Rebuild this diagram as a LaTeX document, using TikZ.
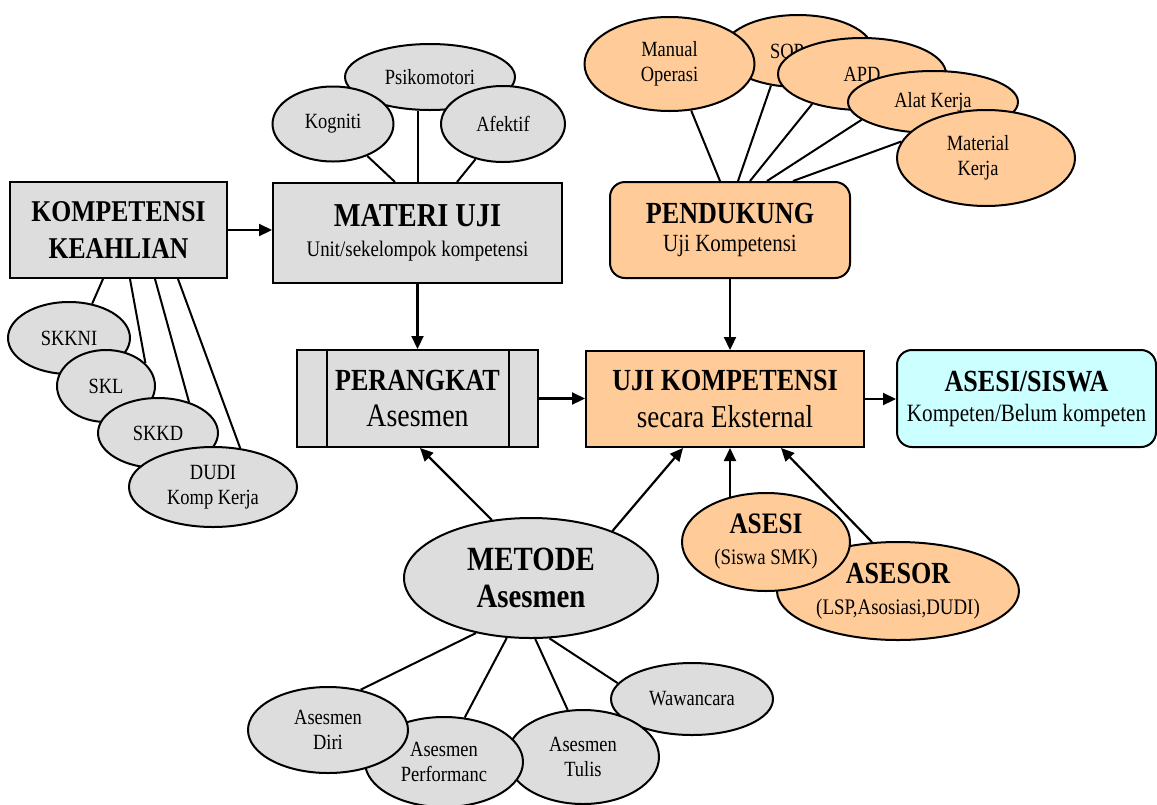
\documentclass[tikz,border=0pt]{standalone}
\usepackage{fontspec}
\setmainfont[FakeStretch=0.85]{Liberation Serif}
\usetikzlibrary{shapes.geometric,arrows.meta,backgrounds}
\definecolor{grfill}{HTML}{DDDDDD}
\definecolor{pefill}{HTML}{FFCC99}
\definecolor{cyfill}{HTML}{CCFFFF}
\tikzset{
  every node/.style={inner sep=0pt, align=center},
  base/.style={draw=black, line width=2pt},
  grbox/.style={base, fill=grfill, rectangle},
  pebox/.style={base, fill=pefill, rectangle},
  grell/.style={base, fill=grfill, ellipse},
  peell/.style={base, fill=pefill, ellipse},
  lbl/.style={font=\fontsize{21.7}{25}\selectfont},
  ttl/.style={font=\fontsize{30.2}{37}\selectfont\bfseries},
  ln/.style={line width=2pt},
  arr/.style={line width=2.2pt, -{Triangle[length=13pt,width=12pt]}}
}
\begin{document}
\begin{tikzpicture}[x=1pt,y=-1pt]
\useasboundingbox (0,0) rectangle (1157,804);

% boxes
\node[grbox, minimum width=217pt, minimum height=96pt, ttl] (komp) at (118.5,230) {KOMPETENSI\\KEAHLIAN};
\node[grbox, minimum width=289pt, minimum height=100pt, font=\fontsize{22.2}{26}\selectfont] (materi) at (417.5,233)
  {{\fontsize{33.4}{34}\selectfont\bfseries MATERI UJI}\\[4pt]Unit/sekelompok kompetensi};
\node[pebox, rounded corners=15pt, minimum width=240pt, minimum height=96pt, font=\fontsize{24.7}{28}\selectfont] (pend) at (730,230)
  {{\fontsize{30.7}{32}\selectfont\bfseries PENDUKUNG}\\Uji Kompetensi};
\node[grbox, minimum width=241pt, minimum height=97pt, font=\fontsize{32.8}{36}\selectfont] (perangkat) at (417.5,398.5)
  {{\fontsize{30.7}{32}\selectfont\bfseries PERANGKAT}\\Asesmen};
\draw[base] ([xshift=31pt]perangkat.north west) -- ([xshift=31pt]perangkat.south west);
\draw[base] ([xshift=-30pt]perangkat.north east) -- ([xshift=-30pt]perangkat.south east);
\node[pebox, minimum width=278pt, minimum height=96pt, font=\fontsize{31.8}{37}\selectfont] (uji) at (725,399)
  {{\fontsize{30.7}{32}\selectfont\bfseries UJI KOMPETENSI}\\secara Eksternal};
\node[base, fill=cyfill, rectangle, rounded corners=15pt, minimum width=259pt, minimum height=97pt, font=\fontsize{24.9}{30}\selectfont] (siswa) at (1026.5,398.5)
  {{\fontsize{30.7}{32}\selectfont\bfseries ASESI/SISWA}\\Kompeten/Belum kompeten};

% top-left ellipses
\node[grell, lbl, minimum width=170pt, minimum height=66pt] (psiko) at (430,77) {Psikomotori};
\node[grell, lbl, minimum width=121pt, minimum height=75pt] (kog) at (333,124) {Kogniti};
\node[grell, lbl, minimum width=124pt, minimum height=76pt] (afek) at (503,124) {Afektif};

% top-right ellipses
\node[peell, lbl, minimum width=150pt, minimum height=72pt] (sop) at (798,51) {\hspace*{-22pt}SOP};
\node[peell, lbl, minimum width=170pt, minimum height=94pt] (manual) at (669.5,64) {Manual\\Operasi};
\node[peell, lbl, minimum width=168pt, minimum height=72pt] (apd) at (862,74) {APD};
\node[peell, lbl, minimum width=170pt, minimum height=62pt] (alat) at (933,102) {Alat Kerja};
\node[peell, lbl, minimum width=178pt, minimum height=96pt] (mat) at (986,158) {\hspace*{-16pt}Material\\\hspace*{-16pt}Kerja};

% left ellipses
\node[grell, lbl, minimum width=122pt, minimum height=72pt] (skkni) at (69,338) {SKKNI};
\node[grell, lbl, minimum width=98pt, minimum height=72pt] (skl) at (106,386) {SKL};
\node[grell, lbl, minimum width=120pt, minimum height=70pt] (skkd) at (158,433) {SKKD};
\node[grell, lbl, minimum width=168pt, minimum height=80pt] (dudi) at (213,487) {DUDI\\Komp Kerja};

% metode and bottom ellipses
\node[grell, minimum width=254pt, minimum height=120pt, font=\fontsize{33.9}{37}\selectfont\bfseries] (metode) at (531,578) {METODE\\Asesmen};
\node[grell, lbl, minimum width=162pt, minimum height=72pt] (waw) at (692,699) {Wawancara};
\node[grell, lbl, minimum width=152pt, minimum height=94pt] (tulis) at (583,757) {Asesmen\\Tulis};
\node[grell, lbl, minimum width=158pt, minimum height=90pt] (perf) at (444,762) {Asesmen\\Performanc};
\node[grell, lbl, minimum width=160pt, minimum height=86pt] (diri) at (328,730) {Asesmen\\Diri};

% asesi / asesor
\node[peell, minimum width=242pt, minimum height=98pt, font=\fontsize{22.2}{31}\selectfont] (asesor) at (898,591)
  {{\fontsize{30.7}{32}\selectfont\bfseries ASESOR}\\(LSP,Asosiasi,DUDI)};
\node[peell, minimum width=168pt, minimum height=98pt, font=\fontsize{22.2}{31}\selectfont] (asesi) at (766,542)
  {{\fontsize{29.7}{32}\selectfont\bfseries ASESI}\\(Siswa SMK)};

% arrows
\draw[arr] (komp.east) -- (komp.east -| materi.west);
\draw[arr] (materi.south) -- (perangkat.north);
\draw[arr] (pend.south) -- (pend.south |- uji.north);
\draw[arr] (perangkat.east) -- (perangkat.east -| uji.west);
\draw[arr] (uji.east) -- (uji.east -| siswa.west);
\draw[arr] (metode.124) -- ([xshift=2.5pt]perangkat.south);
\draw[arr] (metode.30) -- ([xshift=-42pt]uji.south);

\begin{scope}[on background layer]
  \draw[ln] (kog.317) -- ([xshift=-22.5pt]materi.north);
  \draw[ln] (psiko.250) -- (psiko.250 |- materi.north);
  \draw[ln] (afek.232) -- ([xshift=39.5pt]materi.north);
  \draw[ln] (manual.295) -- ([xshift=-10pt]pend.north);
  \draw[ln] (sop.232) -- ([xshift=8pt]pend.north);
  \draw[ln] (apd.211) -- ([xshift=20pt]pend.north);
  \draw[ln] (alat.194) -- ([xshift=37pt]pend.north);
  \draw[ln] (mat.169) -- ([xshift=63pt]pend.north);
  \draw[ln] ([xshift=-15.5pt]komp.south) -- (skkni.56);
  \draw[ln] ([xshift=11.5pt]komp.south) -- (skl.30);
  \draw[ln] ([xshift=36.5pt]komp.south) -- (skkd.45);
  \draw[ln] ([xshift=59.5pt]komp.south) -- (dudi.55);
  \draw[ln] (metode.225) -- (diri.51);
  \draw[ln] (metode.248) -- (perf.65);
  \draw[ln] (metode.274) -- (tulis.108);
  \draw[ln] (metode.287) -- (waw.168);
  \draw[arr] (asesi.center -| pend.south) -- (pend.south |- uji.south);
  \draw[arr] (asesor.118) -- ([xshift=56pt]uji.south);
\end{scope}
\end{tikzpicture}
\end{document}
